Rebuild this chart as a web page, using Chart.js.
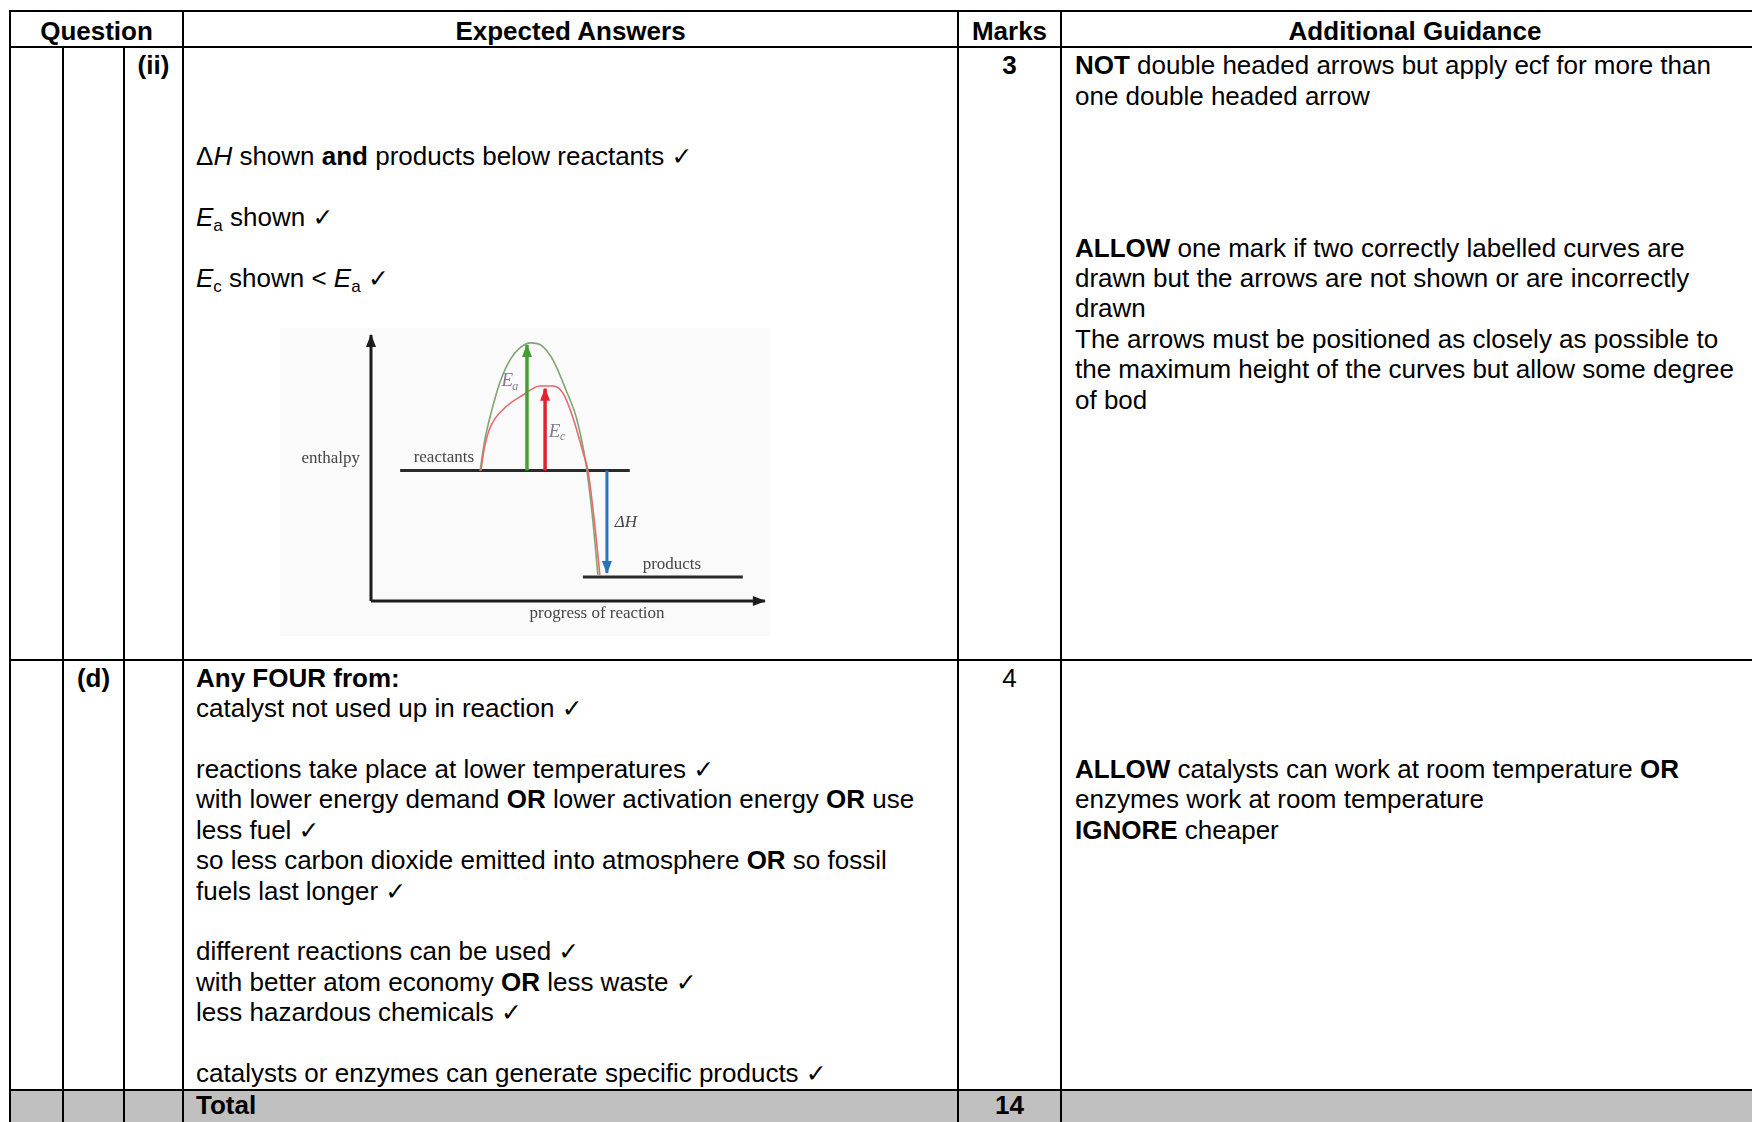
<!DOCTYPE html>
<html><head><meta charset="utf-8">
<script src="https://cdn.jsdelivr.net/npm/chart.js@4.4.1/dist/chart.umd.min.js"></script>
<style>
html,body{margin:0;padding:0;background:#fff;}
body{width:1752px;height:1122px;position:relative;overflow:hidden;font-family:"Liberation Sans",Arial,"DejaVu Sans",sans-serif;font-size:26px;color:#000;}
.ln{position:absolute;background:#000;}
.t{position:absolute;white-space:nowrap;line-height:30.4px;}
.t div{height:30.4px;}
.c{text-align:center;}
.b{font-weight:bold;}
.ck{font-family:"DejaVu Sans",sans-serif;font-size:25px;line-height:0;}
sub{font-size:17px;vertical-align:-5px;line-height:0;}
#gray{position:absolute;left:10px;top:1090px;width:1760px;height:40px;background:#c0c0c0;}
#diag{position:absolute;left:280px;top:328px;width:490px;height:308px;filter:blur(0.5px);}
</style></head>
<body>
<div id="gray"></div>
<!-- horizontal rules -->
<div class="ln" style="left:9px;top:10px;width:1760px;height:2px"></div>
<div class="ln" style="left:9px;top:46px;width:1760px;height:2px"></div>
<div class="ln" style="left:9px;top:659px;width:1760px;height:2px"></div>
<div class="ln" style="left:9px;top:1089px;width:1760px;height:2px"></div>
<!-- vertical rules -->
<div class="ln" style="left:9px;top:10px;width:2px;height:1120px"></div>
<div class="ln" style="left:62px;top:46px;width:2px;height:1080px"></div>
<div class="ln" style="left:123px;top:46px;width:2px;height:1080px"></div>
<div class="ln" style="left:182px;top:10px;width:2px;height:1120px"></div>
<div class="ln" style="left:957px;top:10px;width:2px;height:1120px"></div>
<div class="ln" style="left:1060px;top:10px;width:2px;height:1120px"></div>

<!-- header -->
<div class="t c b" style="left:10px;width:173px;top:15.8px">Question</div>
<div class="t c b" style="left:183px;width:775px;top:15.8px">Expected Answers</div>
<div class="t c b" style="left:958px;width:103px;top:15.8px">Marks</div>
<div class="t c b" style="left:1061px;width:708px;top:15.8px">Additional Guidance</div>

<!-- row (ii) -->
<div class="t c b" style="left:124px;width:59px;top:50.3px">(ii)</div>
<div class="t c b" style="left:958px;width:103px;top:50.3px">3</div>
<div class="t" style="left:196px;top:50.3px">
<div></div><div></div><div></div>
<div>&#916;<i>H</i> shown <b>and</b> products below reactants <span class="ck">&#10003;</span></div>
<div></div>
<div><i>E</i><sub>a</sub> shown <span class="ck">&#10003;</span></div>
<div></div>
<div><i>E</i><sub>c</sub> shown &lt; <i>E</i><sub>a</sub> <span class="ck">&#10003;</span></div>
</div>
<div class="t" style="left:1075px;top:50.3px">
<div><b>NOT</b> double headed arrows but apply ecf for more than</div>
<div>one double headed arrow</div>
<div></div><div></div><div></div><div></div>
<div><b>ALLOW</b> one mark if two correctly labelled curves are</div>
<div>drawn but the arrows are not shown or are incorrectly</div>
<div>drawn</div>
<div>The arrows must be positioned as closely as possible to</div>
<div>the maximum height of the curves but allow some degree</div>
<div>of bod</div>
</div>

<canvas id="diag" width="490" height="308"></canvas>

<!-- row (d) -->
<div class="t c b" style="left:63px;width:61px;top:662.8px">(d)</div>
<div class="t c" style="left:958px;width:103px;top:662.8px">4</div>
<div class="t" style="left:196px;top:662.8px">
<div class="b">Any FOUR from:</div>
<div>catalyst not used up in reaction <span class="ck">&#10003;</span></div>
<div></div>
<div>reactions take place at lower temperatures <span class="ck">&#10003;</span></div>
<div>with lower energy demand <b>OR</b> lower activation energy <b>OR</b> use</div>
<div>less fuel <span class="ck">&#10003;</span></div>
<div>so less carbon dioxide emitted into atmosphere <b>OR</b> so fossil</div>
<div>fuels last longer <span class="ck">&#10003;</span></div>
<div></div>
<div>different reactions can be used <span class="ck">&#10003;</span></div>
<div>with better atom economy <b>OR</b> less waste <span class="ck">&#10003;</span></div>
<div>less hazardous chemicals <span class="ck">&#10003;</span></div>
<div></div>
<div>catalysts or enzymes can generate specific products <span class="ck">&#10003;</span></div>
</div>
<div class="t" style="left:1075px;top:662.8px">
<div></div><div></div><div></div>
<div><b>ALLOW</b> catalysts can work at room temperature <b>OR</b></div>
<div>enzymes work at room temperature</div>
<div><b>IGNORE</b> cheaper</div>
</div>

<!-- total -->
<div class="t b" style="left:196px;top:1090px">Total</div>
<div class="t c b" style="left:958px;width:103px;top:1090px">14</div>

<script>
// ---- data (progress of reaction on x, enthalpy on y; arbitrary units) ----
const uncatalysedX = [27.7, 28.9, 30.5, 32.7, 35.3, 37.8, 40.6, 43.4, 46.2, 49.5, 52.3, 54.6, 56.3, 57.6];
const uncatalysedY = [48.9, 60.5, 70.7, 82.0, 90.6, 95.1, 97.0, 95.9, 90.6, 79.3, 68.0, 51.1, 30.5, 9.8];
const catalysedX   = [27.9, 28.7, 30.2, 34.0, 38.6, 42.9, 46.2, 48.7, 51.3, 53.8, 55.1, 56.9, 58.1];
const catalysedY   = [48.9, 56.8, 65.0, 72.6, 77.4, 80.8, 80.8, 78.2, 68.8, 56.0, 48.9, 27.4, 9.8];
const reactantsLevel = 49;
const reactantsSpan  = [7.4, 65.7];
const productsLevel  = 9;
const productsSpan   = [53.8, 94.4];
const eaArrow = [39.6, 49, 96.2];   // x, from, to
const ecArrow = [44.2, 49, 79.8];
const dhArrow = [59.9, 49, 10.5];
const axisEnd = [100, 100];
const labelText = ['enthalpy', 'reactants', 'products', 'progress of reaction', '\u0394H'];
const labelX    = [-10.2, 18.5, 76.4, 57.4, 64.7];
const labelY    = [53.4, 53.8, 13.5, -4.9, 29.3];
const energyLabels = ['a', 'c'];
const energyLabelX = [34.6, 46.6];
const energyLabelY = [82.5, 63.5];

const pts = (xs, ys) => xs.map((x, i) => ({x: x, y: ys[i]}));

const arrowPlugin = {
  id: 'diagramExtras',
  beforeDraw(chart) {
    const c = chart.ctx;
    c.save(); c.fillStyle = '#fafafa'; c.fillRect(0, 0, chart.width, chart.height); c.restore();
  },
  afterDatasetsDraw(chart) {
    const c = chart.ctx;
    chart.data.datasets.forEach((ds, i) => {
      if (!ds.head) return;
      const el = chart.getDatasetMeta(i).data;
      const a = el[el.length - 2], b = el[el.length - 1];
      const ang = Math.atan2(b.y - a.y, b.x - a.x);
      const L = ds.head[0], W = ds.head[1];
      c.save();
      c.fillStyle = ds.borderColor;
      c.beginPath();
      c.moveTo(b.x + Math.cos(ang) * 1, b.y + Math.sin(ang) * 1);
      c.lineTo(b.x - L * Math.cos(ang) + W / 2 * Math.sin(ang), b.y - L * Math.sin(ang) - W / 2 * Math.cos(ang));
      c.lineTo(b.x - L * Math.cos(ang) - W / 2 * Math.sin(ang), b.y - L * Math.sin(ang) + W / 2 * Math.cos(ang));
      c.closePath(); c.fill(); c.restore();
    });
    const xs = chart.scales.x, ys = chart.scales.y;
    c.save();
    c.textAlign = 'center'; c.textBaseline = 'middle';
    labelText.forEach((t, i) => {
      c.fillStyle = '#454545';
      c.font = (i === 4 ? 'italic ' : '') + '17px "Liberation Serif", "DejaVu Serif", serif';
      c.fillText(t, xs.getPixelForValue(labelX[i]), ys.getPixelForValue(labelY[i]));
    });
    energyLabels.forEach((s, i) => {
      const px = xs.getPixelForValue(energyLabelX[i]), py = ys.getPixelForValue(energyLabelY[i]);
      c.fillStyle = '#857a92';
      c.font = 'italic 19px "Liberation Serif", "DejaVu Serif", serif';
      c.textAlign = 'center';
      c.fillText('E', px, py);
      c.font = 'italic 12px "Liberation Serif", "DejaVu Serif", serif';
      c.fillText(s, px + 8, py + 5);
    });
    c.restore();
  }
};

const line = (data, color, width, order, extra) => Object.assign({
  data: data, borderColor: color, backgroundColor: color, borderWidth: width,
  showLine: true, pointRadius: 0, pointHoverRadius: 0, fill: false, tension: 0,
  borderCapStyle: 'butt', order: order
}, extra || {});

new Chart(document.getElementById('diag'), {
  type: 'scatter',
  data: {
    datasets: [
      line([{x: 0, y: 0}, {x: 0, y: axisEnd[1]}], '#1c1c1c', 3, 4, {head: [12, 10]}),
      line([{x: 0, y: 0}, {x: axisEnd[0], y: 0}], '#1c1c1c', 3, 4, {head: [12, 10]}),
      line([{x: reactantsSpan[0], y: reactantsLevel}, {x: reactantsSpan[1], y: reactantsLevel}], '#2a2a2a', 3, 3),
      line([{x: productsSpan[0], y: productsLevel}, {x: productsSpan[1], y: productsLevel}], '#2a2a2a', 3, 3),
      line(pts(uncatalysedX, uncatalysedY), '#7fa672', 1.6, 2, {cubicInterpolationMode: 'monotone'}),
      line(pts(catalysedX, catalysedY), '#e36b6b', 1.6, 1, {cubicInterpolationMode: 'monotone'}),
      line([{x: eaArrow[0], y: eaArrow[1]}, {x: eaArrow[0], y: eaArrow[2]}], '#45a032', 3.5, 0, {head: [12, 10]}),
      line([{x: ecArrow[0], y: ecArrow[1]}, {x: ecArrow[0], y: ecArrow[2]}], '#e2232e', 3.5, 0, {head: [12, 10]}),
      line([{x: dhArrow[0], y: dhArrow[1]}, {x: dhArrow[0], y: dhArrow[2]}], '#2c72b8', 3, 0, {head: [12, 10]})
    ]
  },
  options: {
    responsive: false, animation: false, devicePixelRatio: 1, events: [],
    layout: {padding: 0},
    plugins: {legend: {display: false}, tooltip: {enabled: false}},
    scales: {
      x: {type: 'linear', display: false, min: -23.1, max: 101.3},
      y: {type: 'linear', display: false, min: -13.2, max: 102.6}
    }
  },
  plugins: [arrowPlugin]
});
</script>
</body></html>
